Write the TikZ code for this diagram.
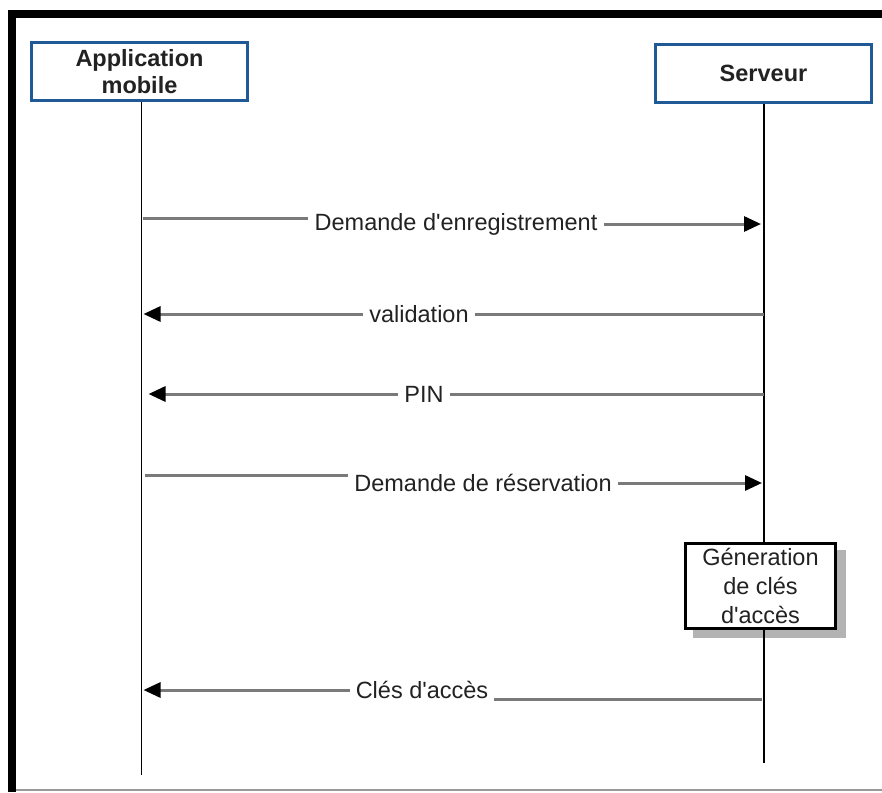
\documentclass[tikz,border=0pt]{standalone}
\usepackage{fontspec}
\setmainfont{Liberation Sans}
\usetikzlibrary{arrows.meta}
\definecolor{headblue}{HTML}{1F5A97}
\definecolor{msggrey}{HTML}{7A7A7A}
\definecolor{txt}{HTML}{222222}
\definecolor{shadowgrey}{HTML}{B3B3B3}
\newcommand{\apos}{\textquotesingle}
\begin{document}
\begin{tikzpicture}[x=1pt,y=-1pt,
  every node/.style={font=\fontsize{23.5}{29}\selectfont, text=txt},
  actor/.style={draw=headblue, line width=3pt, fill=white, align=center,
    minimum width=216pt, minimum height=58pt, inner sep=0pt, font=\fontsize{23.5}{27}\selectfont\bfseries},
  lifeline/.style={draw=black, line width=1.8pt},
  msgline/.style={draw=msggrey, line width=3pt},
  msgarrow/.style={draw=msggrey, line width=3pt,
    -{Triangle[length=17pt,width=15pt,color=black]}},
  lbl/.style={fill=white, inner xsep=6pt, inner ysep=2pt},
  actbox/.style={draw=black, line width=3.2pt, fill=white, align=center,
    minimum width=150pt, minimum height=85pt, inner sep=0pt},
  frame/.style={draw=black, line width=8pt}
]
\useasboundingbox (0,0) rectangle (882,792);

% outer frame
\draw[frame] (12,14) -- (882,14);
\draw[frame] (12,10) -- (12,792);
\draw[draw=black!40, line width=1.5pt] (16,790) -- (882,790);

% participants
\node[actor] (mob) at (139.5,71.5) {Application\\mobile};
\node[actor] (srv) at (763.5,73.5) {Serveur};

% lifeline ends
\coordinate (mobend) at (141.5,775);
\coordinate (srvend) at (764,763);
\coordinate (mobx) at (141.5,0);
\coordinate (srvx) at (764,0);

% server activity box with shadow
\fill[shadowgrey] (693,550) rectangle (846,638);
\node[actbox] (gen) at (760.5,586) {G\'eneration\\de cl\'es\\d\apos acc\`es};

% lifelines
\draw[lifeline] (mob.south -| mobx) -- (mobend);
\draw[lifeline] (srv.south -| srvx) -- (gen.north -| srvx);
\draw[lifeline] (gen.south -| srvx) -- (srvend);

% message labels
\node[lbl] (m1) at (456,224) {Demande d\apos enregistrement};
\node[lbl] (m2) at (419,314) {validation};
\node[lbl] (m3) at (424,394) {PIN};
\node[lbl] (m4) at (483,483) {Demande de r\'eservation};
\node[lbl] (m5) at (422,690) {Cl\'es d\apos acc\`es};

% message 1: mobile -> server
\coordinate (m1a) at (143,218);
\draw[msgline] (m1a) -- (m1a -| m1.west);
\draw[msgarrow] (m1.east) -- ([xshift=-3pt]m1.east -| srvx);

% message 2: server -> mobile
\draw[msgline] (m2.east -| srvx) -- (m2.east);
\draw[msgarrow] (m2.west) -- ([xshift=2pt]m2.west -| mobx);

% message 3: server -> mobile
\draw[msgline] (m3.east -| srvx) -- (m3.east);
\draw[msgarrow] (m3.west) -- ([xshift=7pt]m3.west -| mobx);

% message 4: mobile -> server
\coordinate (m4a) at (145,475);
\draw[msgline] (m4a) -- (m4a -| m4.west);
\draw[msgarrow] (m4.east) -- ([xshift=-2pt]m4.east -| srvx);

% message 5: server -> mobile
\coordinate (m5a) at (762,699);
\draw[msgline] (m5a) -- (m5a -| m5.east);
\draw[msgarrow] (m5.west) -- ([xshift=2pt]m5.west -| mobx);
\end{tikzpicture}
\end{document}
